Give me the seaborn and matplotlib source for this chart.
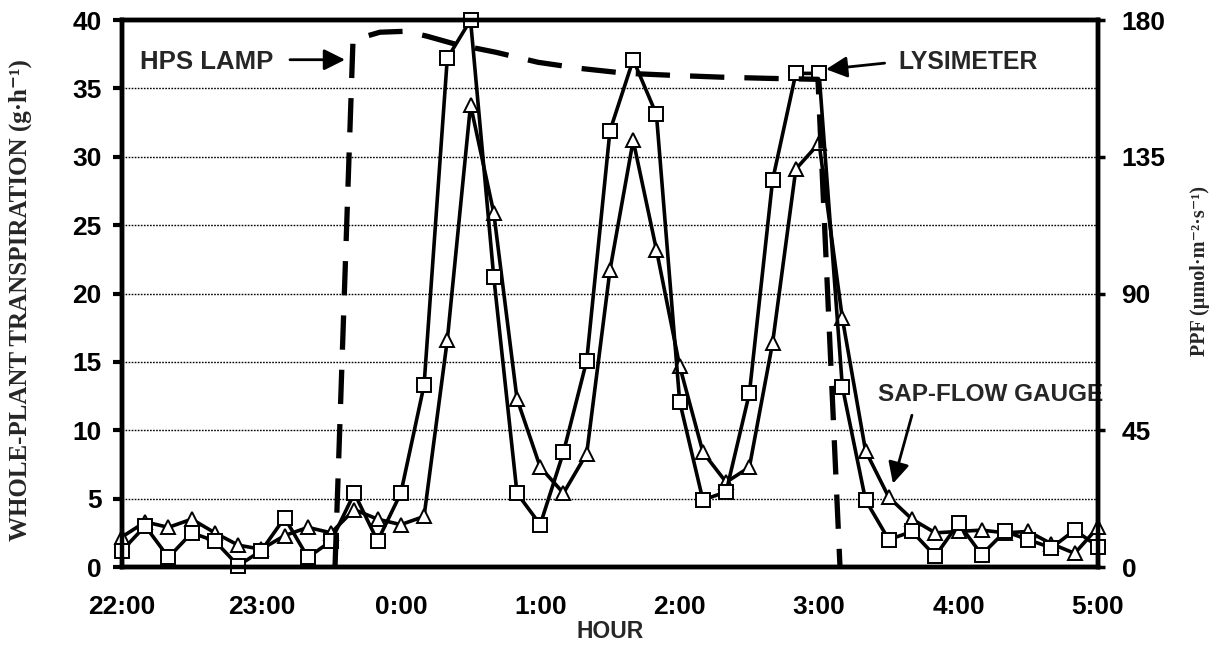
import numpy as np
import pandas as pd
import matplotlib
matplotlib.use("Agg")
import matplotlib.pyplot as plt
import seaborn as sns

# ---- data ----
hour_labels = ["22:00", "23:00", "0:00", "1:00", "2:00", "3:00", "4:00", "5:00"]
# samples every 10 min from 22:00 to 5:00 (hours after 22:00)
sample_hours = [i / 6 for i in range(43)]
lysimeter = [1.2, 3.0, 0.7, 2.5, 1.9, 0.1, 1.2, 3.6, 0.7, 1.9, 5.4, 1.9, 5.4, 13.3,
             37.2, 40.0, 21.2, 5.4, 3.1, 8.4, 15.1, 31.9, 37.1, 33.1, 12.1, 4.9,
             5.5, 12.7, 28.3, 36.1, 36.1, 13.2, 4.9, 2.0, 2.6, 0.8, 3.2, 0.9, 2.6,
             2.0, 1.4, 2.7, 1.5]
sap_flow = [2.2, 3.3, 2.9, 3.5, 2.5, 1.6, 1.3, 2.3, 2.9, 2.5, 4.2, 3.5, 3.1, 3.7,
            16.6, 33.8, 25.9, 12.3, 7.3, 5.4, 8.3, 21.7, 31.2, 23.2, 14.7, 8.4,
            6.2, 7.3, 16.4, 29.1, 31.0, 18.2, 8.5, 5.1, 3.5, 2.5, 2.6, 2.7, 2.5,
            2.6, 1.7, 1.0, 2.9]
lamp_hours = [1.528, 1.657, 1.850, 2.030, 2.187, 2.388, 2.682, 2.984, 3.285,
              3.608, 3.952, 4.303, 4.648, 4.992, 5.150]
lamp_ppf = [0.0, 173.4, 176.0, 176.3, 174.7, 172.1, 169.4, 166.1, 164.1,
            162.5, 161.8, 161.2, 160.8, 160.5, 0.0]

left_ticks = [0, 5, 10, 15, 20, 25, 30, 35, 40]
right_ticks = [0, 45, 90, 135, 180]

# ---- style ----
sns.set_style("white")
SANS = ["Liberation Sans", "DejaVu Sans"]
SERIF = ["Liberation Serif", "DejaVu Serif"]
plt.rcParams["font.family"] = SANS
plt.rcParams["font.weight"] = "bold"

fig = plt.figure(figsize=(12.21, 6.45), dpi=100)
ax = fig.add_axes([0.0999, 0.1209, 0.7993, 0.848])
ax2 = ax.twinx()

df = pd.DataFrame({"hour": sample_hours, "lys": lysimeter, "sap": sap_flow})

sns.lineplot(data=df, x="hour", y="sap", ax=ax, color="black", lw=2.6,
             marker="^", markersize=10.5, markerfacecolor="white",
             markeredgecolor="black", markeredgewidth=1.4, clip_on=False, zorder=4)
sns.lineplot(data=df, x="hour", y="lys", ax=ax, color="black", lw=2.6,
             marker="s", markersize=9.5, markerfacecolor="white",
             markeredgecolor="black", markeredgewidth=1.4, clip_on=False, zorder=5)

lamp_df = pd.DataFrame({"hour": lamp_hours, "ppf": lamp_ppf})
sns.lineplot(data=lamp_df, x="hour", y="ppf", ax=ax2, color="black", lw=3.8,
             sort=False, zorder=3)
ax2.lines[-1].set_dashes((6.5, 3.8))

# ---- axes ----
ax.set_xlim(0, 7)
ax.set_ylim(0, 40)
ax2.set_ylim(0, 180)
ax.set_xticks(np.arange(0, 7.01, 0.5))
ax.set_xticklabels([hour_labels[int(v)] if v == int(v) else "" for v in np.arange(0, 7.01, 0.5)])
ax.set_yticks(left_ticks)
ax.set_yticklabels([str(v) for v in left_ticks])
ax2.set_yticks(right_ticks)
ax2.set_yticklabels([str(v) for v in right_ticks])

ax.yaxis.grid(True, linestyle=(0, (1.2, 1.0)), color="black", lw=1.0)
ax.xaxis.grid(False)
ax.set_axisbelow(True)

for a in (ax, ax2):
    for s in a.spines.values():
        s.set_linewidth(3.2)
        s.set_color("black")

ax.tick_params(axis="x", direction="out", length=7, width=3, pad=13,
               labelsize=19, colors="black")
ax.tick_params(axis="y", direction="out", length=6.5, width=3, pad=8,
               labelsize=19, colors="black")
ax2.tick_params(axis="y", direction="out", length=5, width=2.5, pad=12,
                labelsize=19, colors="black")
for lab in ax.get_xticklabels() + ax.get_yticklabels() + ax2.get_yticklabels():
    lab.set_fontweight("bold")
    lab.set_family(SANS)

ax.set_xlabel("HOUR", fontsize=16.5, fontweight="bold", family=SANS, labelpad=1)
ax.set_ylabel("")
ax2.set_ylabel("")
fig.text(0.0165, 0.535, "WHOLE-PLANT TRANSPIRATION (g·h⁻¹)", rotation=90,
         ha="center", va="center", fontsize=18, fontweight="bold", family=SERIF)
fig.text(0.983, 0.58, "PPF (µmol·m⁻²·s⁻¹)", rotation=90,
         ha="center", va="center", fontsize=14.5, fontweight="bold", family=SERIF)

# ---- annotations ----
arrow = dict(arrowstyle="-|>", mutation_scale=32, lw=2, color="black",
             shrinkA=0, shrinkB=0)
ax.text(0.13, 36.9, "HPS LAMP", fontsize=18.5, fontweight="bold", family=SANS,
        ha="left", va="center", zorder=6)
ax.annotate("", xy=(1.60, 37.1), xytext=(1.205, 37.1), arrowprops=arrow, zorder=6)
ax.text(5.566, 36.9, "LYSIMETER", fontsize=17.8, fontweight="bold", family=SANS,
        ha="left", va="center", zorder=6)
ax.annotate("", xy=(5.05, 36.4), xytext=(5.47, 36.85), arrowprops=arrow, zorder=6)
ax.text(5.42, 12.6, "SAP-FLOW GAUGE", fontsize=17.5, fontweight="bold", family=SANS,
        ha="left", va="center", zorder=1)
ax.annotate("", xy=(5.53, 6.1), xytext=(5.666, 11.1), arrowprops=arrow, zorder=6)

fig.savefig("out.png", dpi=100, facecolor="white")
